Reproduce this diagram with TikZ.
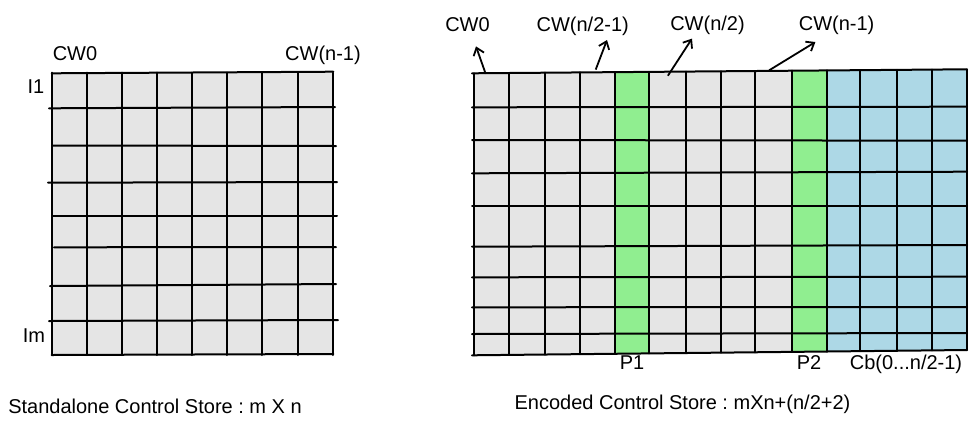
\documentclass[tikz,border=0pt]{standalone}
\usepackage{fontspec}
\setmainfont{Liberation Sans}
\usetikzlibrary{arrows.meta}
\definecolor{cellgray}{RGB}{229,229,229}
\definecolor{paritygreen}{RGB}{144,238,144}
\definecolor{checkblue}{RGB}{173,216,230}
\frenchspacing
\begin{document}
\begin{tikzpicture}[x=1pt,y=-1pt,
  gridline/.style={line width=2pt,line cap=round},
  lbl/.style={inner sep=0pt,anchor=base,font=\fontsize{20}{24}\selectfont},
  ptr/.style={line width=1.8pt,-{Straight Barb[length=7pt,width=11pt]}}]
\useasboundingbox (0,0) rectangle (969,421);

% ---------- left grid: standalone store ----------
\fill[cellgray] (51.7,73.3) -- (333.3,71.7) -- (333.3,354) -- (51.7,355) -- cycle;
\foreach \xl/\yl/\xr/\yr in {51.7/73.3/333.3/71.7, 49/108.3/335/107, 52/145.5/336/146,
  48/182.7/337/182, 52/216/337/216, 54/247.3/336/247, 50/286/336/284,
  49/321/338/320, 51.7/355/333.3/354}
  \draw[gridline] (\xl,\yl) -- (\xr,\yr);
\foreach \x in {51.7,86.7,122.3,157.3,192,226.7,262,297.7,333.3}
  \draw[gridline] (\x,72.5) -- (\x,355);

\node[lbl] (lcw0) at (75,60) {CW0};
\node[lbl] (lcwn) at (323,60) {CW(n-1)};
\node[lbl] (li1) at (36,93) {I1};
\node[lbl] (lim) at (34,342) {Im};
\node[lbl] (lcap) at (155,413) {Standalone Control Store : m X n};

% ---------- right grid: encoded store ----------
\foreach \xa/\xb/\c in {474/509/cellgray, 509/545/cellgray, 545/580/cellgray, 580/615/cellgray,
  615/649/paritygreen, 649/686/cellgray, 686/721/cellgray, 721/755/cellgray, 755/792/cellgray,
  792/827/paritygreen, 827/860/checkblue, 860/897/checkblue, 897/932/checkblue, 932/967/checkblue}{
  \pgfmathsetmacro\ta{73.3-4*(\xa-474)/493}
  \pgfmathsetmacro\tb{73.3-4*(\xb-474)/493}
  \pgfmathsetmacro\ba{355.3-5.3*(\xa-474)/493}
  \pgfmathsetmacro\bb{355.3-5.3*(\xb-474)/493}
  \fill[\c] (\xa,\ta) -- (\xb,\tb) -- (\xb,\bb) -- (\xa,\ba) -- cycle;
}
\foreach \yl/\yr in {73.3/69.3, 107.3/106.7, 140/140.7, 173.3/171.7, 206/206,
  246.7/245, 277.3/276.7, 307.3/307, 334/333, 355.3/350}
  \draw[gridline] (472,\yl) -- (967,\yr);
\foreach \x in {474,509,545,580,615,649,686,721,755,792,827,860,897,932,967}{
  \pgfmathsetmacro\tt{73.3-4*(\x-474)/493}
  \pgfmathsetmacro\bt{355.3-5.3*(\x-474)/493}
  \draw[gridline] (\x,\tt) -- (\x,\bt);
}

\node[lbl] (rcw0) at (467.5,31.4) {CW0};
\node[lbl] (rcwh) at (582.7,31.4) {CW(n/2-1)};
\node[lbl] (rcwm) at (707.5,30.4) {CW(n/2)};
\node[lbl] (rcwn) at (836.6,30.4) {CW(n-1)};

\coordinate (t0) at (485.7,73.9);   \coordinate (h0) at (476,46.4);
\coordinate (t1) at (595.7,69.6);   \coordinate (h1) at (607,40);
\coordinate (t2) at (667.9,75.7);   \coordinate (h2) at (692,38.6);
\coordinate (t3) at (769,70.4);     \coordinate (h3) at (815.4,42);
\draw[ptr] (t0) -- (h0);
\draw[ptr] (t1) -- (h1);
\draw[ptr] (t2) -- (h2);
\draw[ptr] (t3) -- (h3);

\node[lbl] (p1) at (632,369) {P1};
\node[lbl] (p2) at (809,369) {P2};
\node[lbl] (cb) at (906,369) {Cb(0...n/2-1)};
\node[lbl] (rcap) at (682.5,409) {Encoded Control Store : mXn+(n/2+2)};
\end{tikzpicture}
\end{document}
